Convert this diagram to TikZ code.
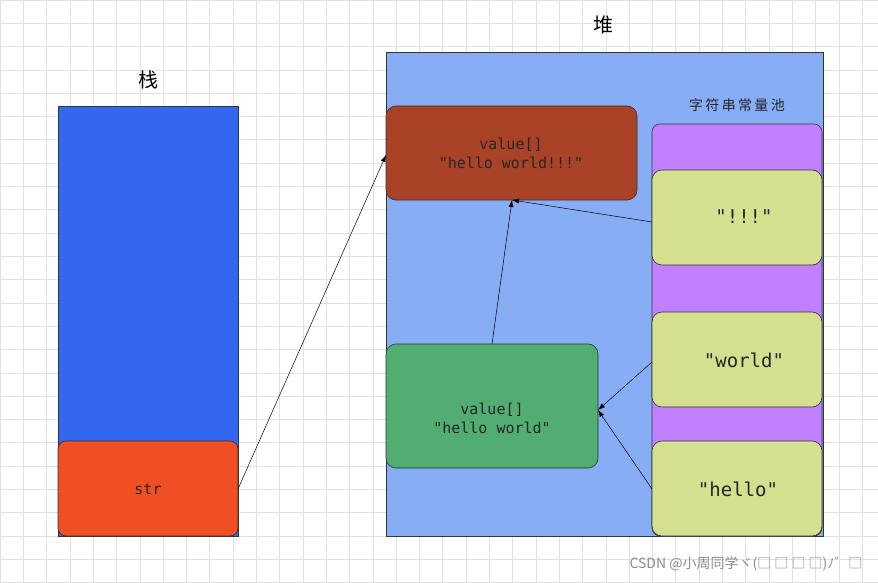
\documentclass[tikz,border=0pt]{standalone}
\usepackage{fontspec}
\newfontfamily\cjk{Noto Sans CJK SC}
\newfontfamily\mono{DejaVu Sans Mono}
\usetikzlibrary{arrows.meta}
\definecolor{stackc}{HTML}{3467F0}
\definecolor{strc}{HTML}{F04E23}
\definecolor{heapc}{HTML}{87AEF4}
\definecolor{redc}{HTML}{A94226}
\definecolor{poolc}{HTML}{C080FF}
\definecolor{litc}{HTML}{D4E08F}
\definecolor{greenc}{HTML}{52AD72}
\tikzset{
  box/.style={draw=black!80, rounded corners=10pt, line width=0.6pt},
  code/.style={font=\mono\fontsize{15}{19}\selectfont, align=center, text=black!85},
  arr/.style={-{Latex[length=7pt,width=5pt]}, line width=0.5pt},
}
\begin{document}
\begin{tikzpicture}[x=1pt,y=-1pt]
\useasboundingbox (0,0) rectangle (878,583);
\fill[white] (0,0) rectangle (878,583);
\foreach \i in {0,...,38} \draw[black!12, line width=0.6pt] (\i*23.3,0) -- (\i*23.3,583);
\foreach \j in {0,...,25} \draw[black!12, line width=0.6pt] (0,\j*23.3) -- (878,\j*23.3);
% stack
\node[font=\cjk\fontsize{20}{24}\selectfont] (zhan) at (148,80) {栈};
\draw[fill=stackc, draw=black!80] (58,106) rectangle (238,536);
\draw[box, fill=strc, rounded corners=8pt] (58,441) rectangle (238,536);
\node[code] (str) at (148,489) {str};
\coordinate (strE) at (238,489);
% heap
\node[font=\cjk\fontsize{20}{24}\selectfont] (dui) at (603,25) {堆};
\draw[fill=heapc, draw=black!80] (386,52) rectangle (823,536);
\draw[box, fill=redc] (386,106) rectangle (637,200);
\node[code] (top) at (511,153) {value[]\\"hello world!!!"};
\coordinate (topW) at (386,155);
\coordinate (topS) at (512,200);
\node[font=\cjk\fontsize{14}{17}\selectfont, text=black!85] (poollbl) at (737,105) {字\,符\,串\,常\,量\,池};
\draw[box, fill=poolc, rounded corners=8pt] (652,124) rectangle (822,536);
\draw[box, fill=litc] (652,170) rectangle (822,265);
\node[code, font=\mono\fontsize{19}{22}\selectfont] (l1) at (744,217) {"!!!"};
\draw[box, fill=litc] (652,312) rectangle (822,407);
\node[code, font=\mono\fontsize{19}{22}\selectfont] (l2) at (744,360) {"world"};
\draw[box, fill=litc] (652,441) rectangle (822,536);
\node[code, font=\mono\fontsize{19}{22}\selectfont] (l3) at (738,489) {"hello"};
\draw[box, fill=greenc] (386,344) rectangle (598,468);
\node[code] (bot) at (492,418) {value[]\\"hello world"};
\coordinate (botN) at (492,344);
\coordinate (botE) at (598,410);
\coordinate (l1W) at (652,222);
\coordinate (l2W) at (652,362);
\coordinate (l3W) at (652,489);
\draw[arr] (strE) -- (topW);
\draw[arr] (botN) -- (topS);
\draw[arr] (l1W) -- (topS);
\draw[arr] (l2W) -- (botE);
\draw[arr] (l3W) -- (botE);
\node[font=\cjk\fontsize{14}{17}\selectfont, text=black!45, anchor=east] (wm) at (866,564) {CSDN @小周同学ヾ(□ □ □ □)ﾉ゛□~};
\end{tikzpicture}
\end{document}
